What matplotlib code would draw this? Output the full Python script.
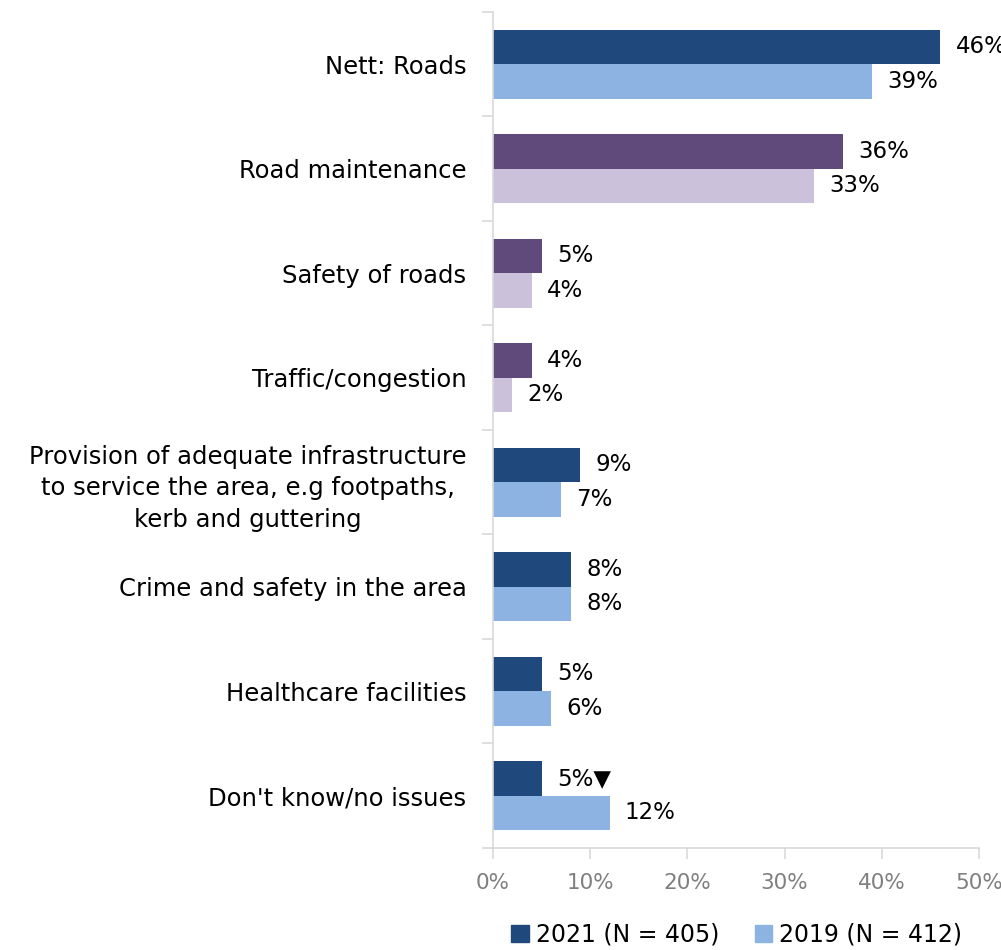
import matplotlib
matplotlib.use("Agg")
import matplotlib.pyplot as plt
from matplotlib.patches import Patch
import numpy as np

categories = [
    "Nett: Roads",
    "Road maintenance",
    "Safety of roads",
    "Traffic/congestion",
    "Provision of adequate infrastructure\nto service the area, e.g footpaths,\nkerb and guttering",
    "Crime and safety in the area",
    "Healthcare facilities",
    "Don't know/no issues",
]
values_2021 = [46, 36, 5, 4, 9, 8, 5, 5]
values_2019 = [39, 33, 4, 2, 7, 8, 6, 12]
# rows that break down the "Nett: Roads" total
road_subitems = [False, True, True, True, False, False, False, False]
# significance markers appended to the 2021 value labels
markers_2021 = ["", "", "", "", "", "", "", "\u25BC"]
series_names = ["2021 (N = 405)", "2019 (N = 412)"]
x_ticks = [0, 10, 20, 30, 40, 50]

DARK_BLUE = "#1F497D"
LIGHT_BLUE = "#8DB3E2"
DARK_PURPLE = "#604A7B"
LIGHT_PURPLE = "#CCC1DA"
AXIS_GREY = "#D9D9D9"
TICK_GREY = "#7F7F7F"

plt.rcParams["font.family"] = ["DejaVu Sans"]

fig = plt.figure(figsize=(10.01, 9.5), dpi=100)
ax = fig.add_axes([0.4925, 0.1074, 0.978 - 0.4925, 0.9874 - 0.1074])

y = np.arange(len(categories))
h = 0.33
c21 = [DARK_PURPLE if s else DARK_BLUE for s in road_subitems]
c19 = [LIGHT_PURPLE if s else LIGHT_BLUE for s in road_subitems]
b21 = ax.barh(y - h / 2, values_2021, height=h, color=c21)
b19 = ax.barh(y + h / 2, values_2019, height=h, color=c19)

lbl_size = 16.5
for bar, v, m in zip(b21, values_2021, markers_2021):
    ax.annotate(f"{v}%{m}", (bar.get_width(), bar.get_y() + bar.get_height() / 2),
                xytext=(11, 0), textcoords="offset points", va="center", ha="left",
                fontsize=lbl_size, color="black", annotation_clip=False)
for bar, v in zip(b19, values_2019):
    ax.annotate(f"{v}%", (bar.get_width(), bar.get_y() + bar.get_height() / 2),
                xytext=(11, 0), textcoords="offset points", va="center", ha="left",
                fontsize=lbl_size, color="black", annotation_clip=False)

ax.set_xlim(0, 50)
ax.set_ylim(len(categories) - 0.5, -0.5)
ax.set_xticks(x_ticks)
ax.set_xticklabels([f"{t}%" for t in x_ticks], color=TICK_GREY, fontsize=15.5)
ax.set_yticks(y)
ax.set_yticklabels(categories, fontsize=17.5, multialignment="center", linespacing=1.38)
ax.set_yticks(np.arange(len(categories) + 1) - 0.5, minor=True)
ax.tick_params(axis="y", which="major", length=0, pad=19)
ax.tick_params(axis="y", which="minor", length=8, color=AXIS_GREY, width=1.2)
ax.tick_params(axis="x", which="major", length=8, color=AXIS_GREY, width=1.2, pad=10)

for side in ["top", "right"]:
    ax.spines[side].set_visible(False)
for side in ["left", "bottom"]:
    ax.spines[side].set_color(AXIS_GREY)
    ax.spines[side].set_linewidth(1.2)

handles = [Patch(color=DARK_BLUE), Patch(color=LIGHT_BLUE)]
fig.legend(handles, series_names, loc="center", bbox_to_anchor=(0.736, 0.016),
           ncol=2, frameon=False, fontsize=17, handlelength=0.75, handleheight=0.75,
           handletextpad=0.3, columnspacing=1.5)

fig.savefig("out.png", dpi=100)
